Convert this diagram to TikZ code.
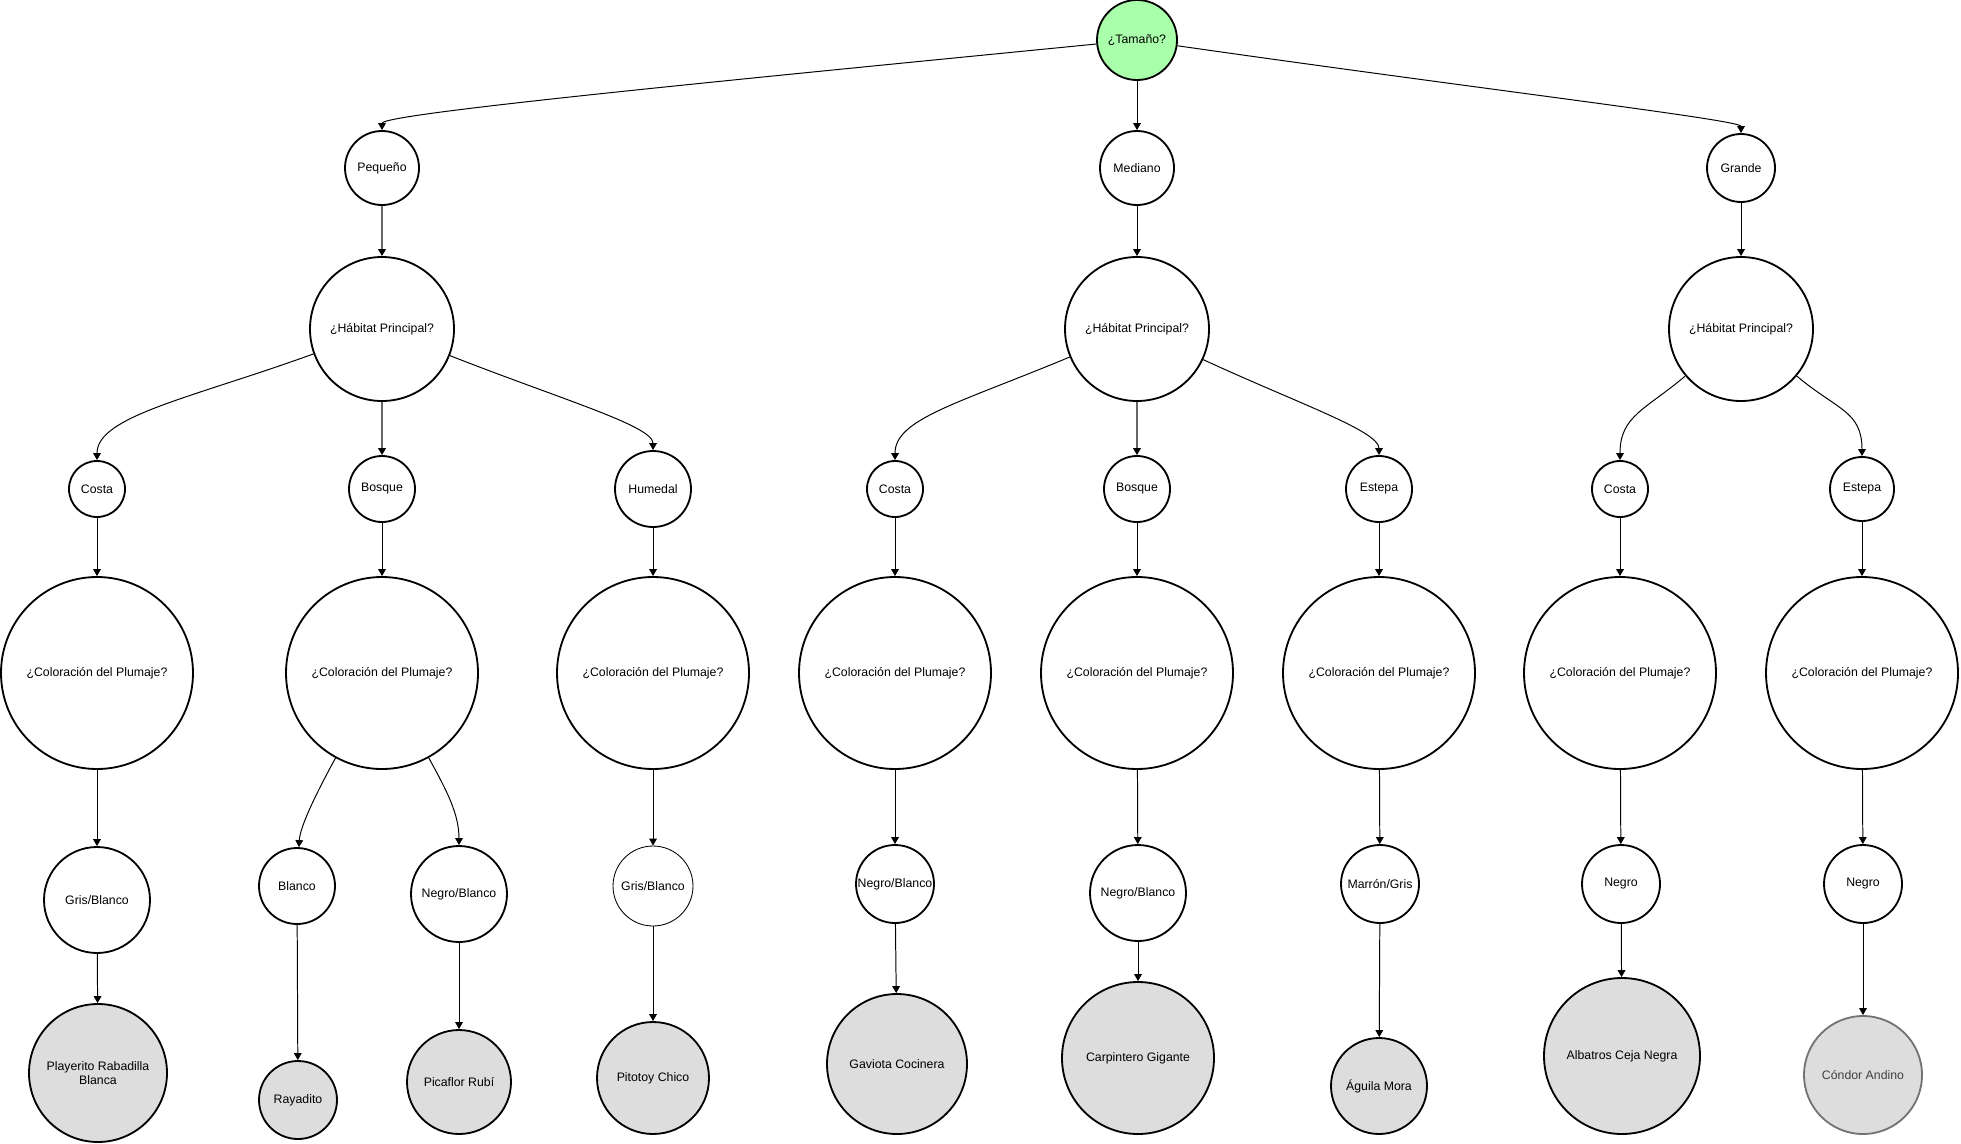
\documentclass[tikz,border=0pt]{standalone}
\usepackage{fontspec}
\setmainfont{Liberation Sans}
\usetikzlibrary{arrows.meta}
\definecolor{rootgreen}{RGB}{170,255,170}
\definecolor{leafgray}{RGB}{222,221,222}

\begin{document}
\begin{tikzpicture}[
        x=0.05cm, y=-0.05cm,
        every node/.style={font=\fontsize{17.5}{21}\selectfont},
        question/.style={circle, draw, line width=2.6pt, fill=white, inner sep=0pt},
        answer/.style={circle, draw, line width=2.6pt, fill=white, inner sep=0pt},
        species/.style={circle, draw, line width=2.6pt, fill=leafgray, inner sep=0pt, align=center},
        edge/.style={line width=1.4pt, -{Triangle[length=10pt, width=11pt]}},
        greyedge/.style={line width=2pt, black!60, -{Triangle[length=10pt, width=11pt, color=black]}}
    ]
    \useasboundingbox (0,0) rectangle (1961,1143);

    % Root question
    \node[question, fill=rootgreen, minimum size=4cm] (tam) at (1137, 40) {¿Tamaño?};

    % Size answers
    \node[answer, minimum size=3.7cm] (peq) at (382, 168) {Pequeño};
    \node[answer, minimum size=3.7cm] (med) at (1137, 168) {Mediano};
    \node[answer, minimum size=3.4cm] (gra) at (1741, 168) {Grande};

    % Habitat questions
    \foreach \name/\x in {habA/382, habB/1137, habC/1741} {
        \node[question, minimum size=7.2cm] (\name) at (\x, 329) {¿Hábitat Principal?};
    }

    % Habitat answers
    \foreach \name/\x/\d/\txt in {costaA/97/2.8/Costa, bosqueA/382/3.3/Bosque, humedalA/653/3.8/Humedal,
            costaB/895/2.8/Costa, bosqueB/1137/3.3/Bosque, estepaB/1379/3.3/Estepa,
            costaC/1620/2.8/Costa, estepaC/1862/3.2/Estepa} {
        \node[answer, minimum size=\d cm] (\name) at (\x, 489) {\txt};
    }

    % Plumage questions
    \foreach \name/\x in {colA1/97, colA2/382, colA3/653, colB1/895, colB2/1137, colB3/1379, colC1/1620, colC2/1862} {
        \node[question, minimum size=9.6cm] (\name) at (\x, 673) {¿Coloración del Plumaje?};
    }

    % Plumage answers
    \node[answer, minimum size=5.3cm] (grisA) at (97, 900) {Gris/Blanco};
    \node[answer, minimum size=3.8cm] (blancoA) at (297, 886) {Blanco};
    \node[answer, minimum size=4.8cm] (negroblA) at (459, 894) {Negro/Blanco};
    \node[answer, line width=1.2pt, minimum size=4.0cm] (grisH) at (653, 886) {Gris/Blanco};
    \node[answer, minimum size=3.9cm] (negroblB) at (895, 884) {Negro/Blanco};
    \node[answer, minimum size=4.8cm] (negroblB2) at (1138, 893) {Negro/Blanco};
    \node[answer, minimum size=3.9cm] (marron) at (1380, 884) {Marrón/Gris};
    \node[answer, minimum size=3.9cm] (negroC1) at (1621, 884) {Negro};
    \node[answer, minimum size=3.9cm] (negroC2) at (1863, 884) {Negro};

    % Species (leaves)
    \node[species, minimum size=6.9cm] (playerito) at (98, 1073) {Playerito Rabadilla\\Blanca};
    \node[species, minimum size=3.9cm] (rayadito) at (298, 1100) {Rayadito};
    \node[species, minimum size=5.2cm] (picaflor) at (459, 1082) {Picaflor Rubí};
    \node[species, minimum size=5.6cm] (pitotoy) at (653, 1078) {Pitotoy Chico};
    \node[species, minimum size=7.0cm] (gaviota) at (897, 1064) {Gaviota Cocinera};
    \node[species, minimum size=7.6cm] (carpintero) at (1138, 1058) {Carpintero Gigante};
    \node[species, minimum size=4.8cm] (aguila) at (1379, 1086) {Águila Mora};
    \node[species, minimum size=7.8cm] (albatros) at (1622, 1056) {Albatros Ceja Negra};
    \node[species, draw=black!55, text=black!75, minimum size=5.9cm] (condor) at (1863, 1075) {Cóndor Andino};

    % Curved connectors
    \draw[edge] (tam) .. controls +(-437,43) and +(0,-54) .. (peq);
    \draw[edge] (tam) .. controls +(350,50) and +(0,-48) .. (gra);
    \draw[edge] (habA) .. controls +(-190,69) and +(0,-73) .. (costaA);
    \draw[edge] (habA) .. controls +(181,71) and +(0,-63) .. (humedalA);
    \draw[edge] (habB) .. controls +(-180,75) and +(0,-70) .. (costaB);
    \draw[edge] (habB) .. controls +(160,74) and +(0,-58) .. (estepaB);
    \draw[edge] (habC) .. controls +(-96,81) and +(0,-73) .. (costaC);
    \draw[edge] (habC) .. controls +(96,81) and +(0,-78) .. (estepaC);
    \draw[edge] (colA2) .. controls +(-64,117) and +(3,-60) .. (blancoA);
    \draw[edge] (colA2) .. controls +(65,118) and +(0,-80) .. (negroblA);

    % Straight connectors
    \draw[edge] (tam) -- (med);
    \foreach \a/\b in {peq/habA, habA/bosqueA, habB/bosqueB} {
        \draw[greyedge] (\a) -- (\b);
    }
    \foreach \a/\b in {med/habB, gra/habC,
            costaA/colA1, bosqueA/colA2, humedalA/colA3, costaB/colB1, bosqueB/colB2, estepaB/colB3, costaC/colC1, estepaC/colC2,
            colA1/grisA, colA3/grisH, colB1/negroblB, colB2/negroblB2, colB3/marron, colC1/negroC1, colC2/negroC2,
            grisA/playerito, blancoA/rayadito, negroblA/picaflor, grisH/pitotoy, negroblB/gaviota,
            negroblB2/carpintero, marron/aguila, negroC1/albatros, negroC2/condor} {
        \draw[edge] (\a) -- (\b);
    }
\end{tikzpicture}
\end{document}
